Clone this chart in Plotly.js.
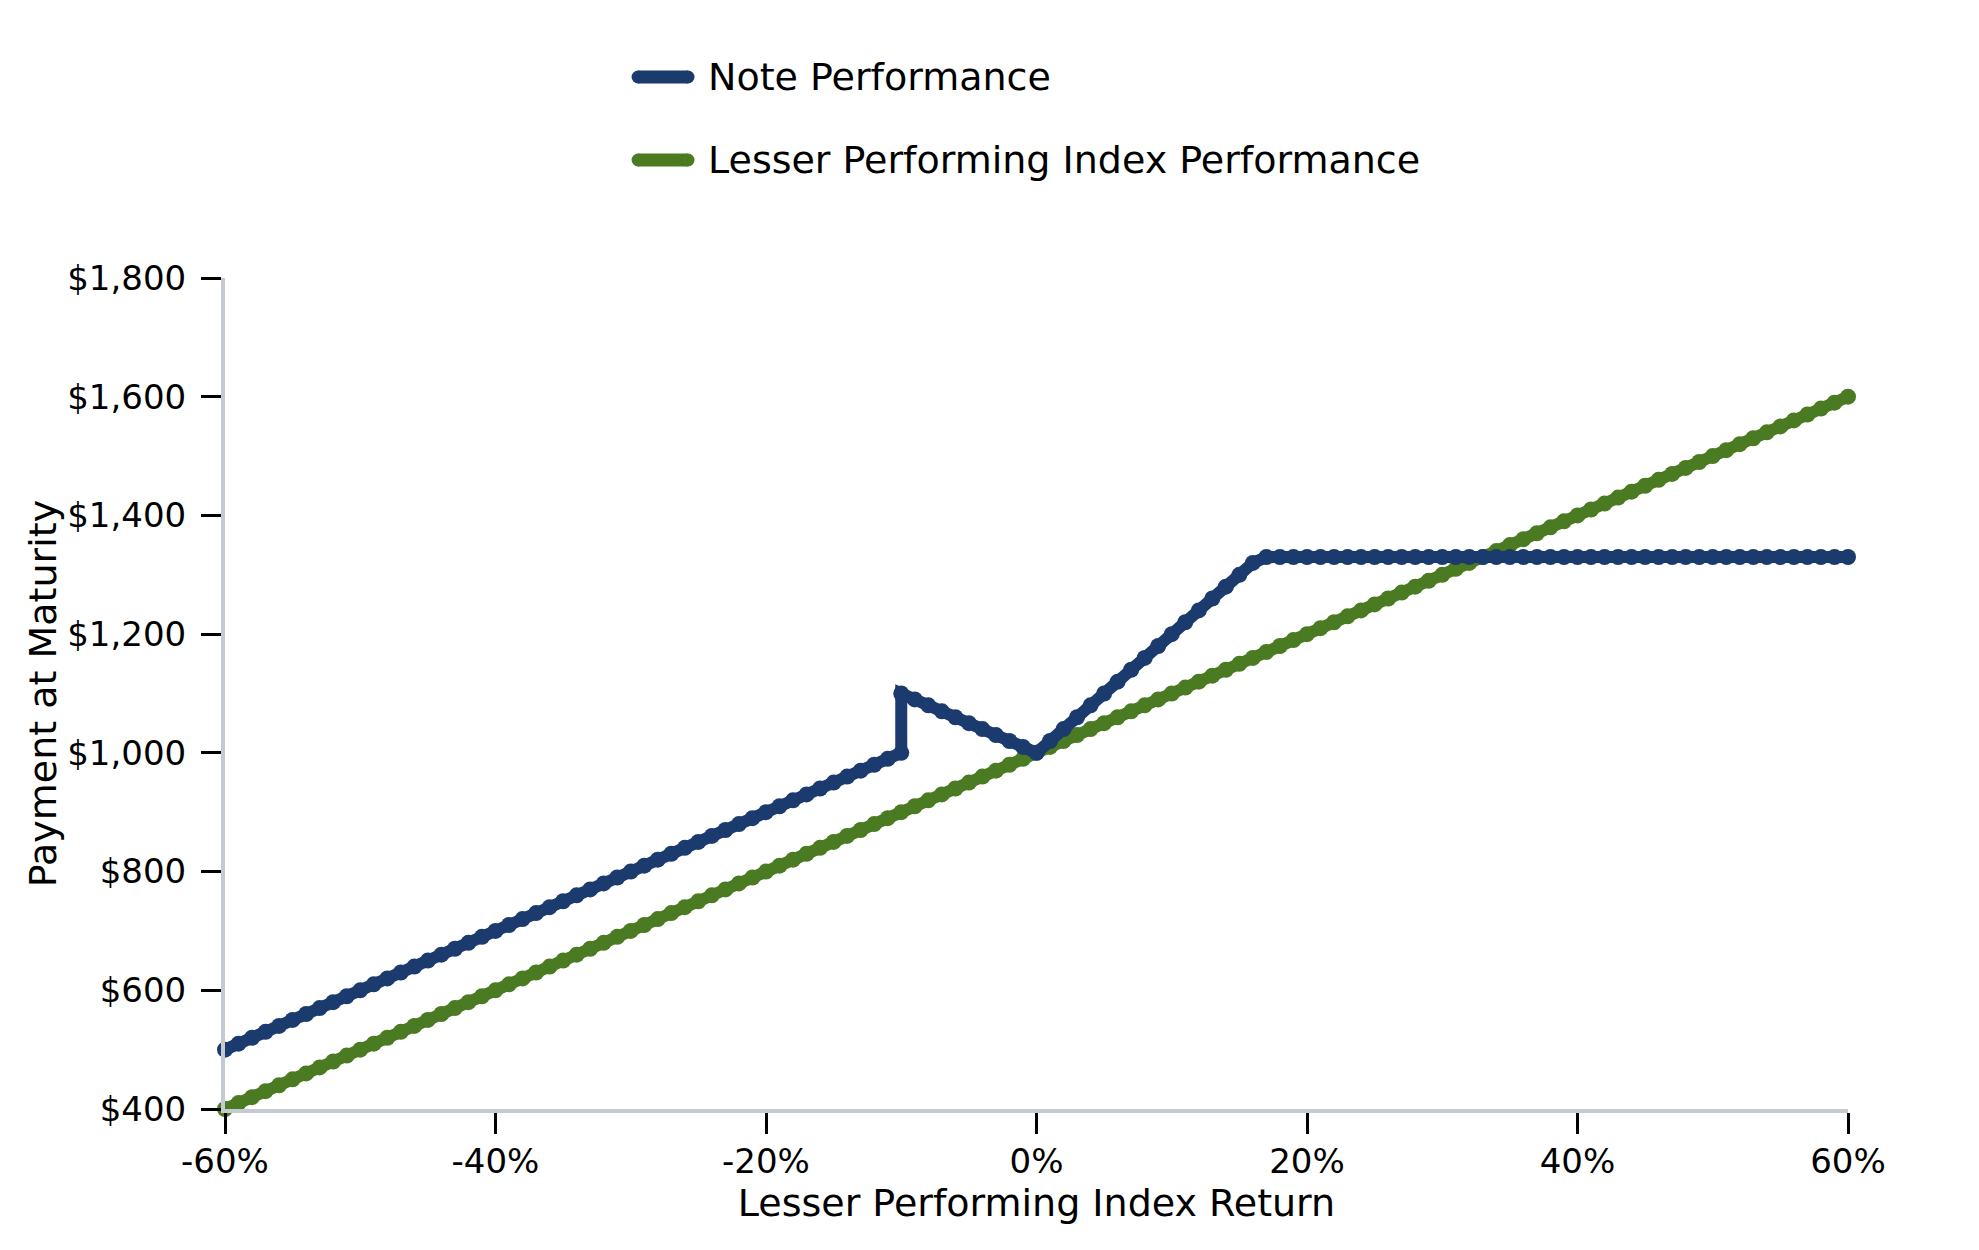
<!DOCTYPE html>
<html>
<head>
<meta charset="utf-8">
<script src="https://cdn.plot.ly/plotly-3.0.1.min.js"></script>
<style>
  html, body { margin: 0; padding: 0; background: #fff; }
  #chart { width: 1979px; height: 1250px; }
</style>
</head>
<body>
<div id="chart"></div>
<script>
// lesser performing index return, in percent
var returnPct = [
  -60,-59,-58,-57,-56,-55,-54,-53,-52,-51,
  -50,-49,-48,-47,-46,-45,-44,-43,-42,-41,
  -40,-39,-38,-37,-36,-35,-34,-33,-32,-31,
  -30,-29,-28,-27,-26,-25,-24,-23,-22,-21,
  -20,-19,-18,-17,-16,-15,-14,-13,-12,-11,
  -10,-9,-8,-7,-6,-5,-4,-3,-2,-1,
  0,1,2,3,4,5,6,7,8,9,
  10,11,12,13,14,15,16,17,18,19,
  20,21,22,23,24,25,26,27,28,29,
  30,31,32,33,34,35,36,37,38,39,
  40,41,42,43,44,45,46,47,48,49,
  50,51,52,53,54,55,56,57,58,59,
  60
];

var indexPayment = [
  400,410,420,430,440,450,460,470,480,490,
  500,510,520,530,540,550,560,570,580,590,
  600,610,620,630,640,650,660,670,680,690,
  700,710,720,730,740,750,760,770,780,790,
  800,810,820,830,840,850,860,870,880,890,
  900,910,920,930,940,950,960,970,980,990,
  1000,1010,1020,1030,1040,1050,1060,1070,1080,1090,
  1100,1110,1120,1130,1140,1150,1160,1170,1180,1190,
  1200,1210,1220,1230,1240,1250,1260,1270,1280,1290,
  1300,1310,1320,1330,1340,1350,1360,1370,1380,1390,
  1400,1410,1420,1430,1440,1450,1460,1470,1480,1490,
  1500,1510,1520,1530,1540,1550,1560,1570,1580,1590,
  1600
];

// note curve has two points at -10% (the jump)
var noteReturnPct = [
  -60,-59,-58,-57,-56,-55,-54,-53,-52,-51,
  -50,-49,-48,-47,-46,-45,-44,-43,-42,-41,
  -40,-39,-38,-37,-36,-35,-34,-33,-32,-31,
  -30,-29,-28,-27,-26,-25,-24,-23,-22,-21,
  -20,-19,-18,-17,-16,-15,-14,-13,-12,-11,
  -10,
  -10,-9,-8,-7,-6,-5,-4,-3,-2,-1,
  0,1,2,3,4,5,6,7,8,9,
  10,11,12,13,14,15,16,17,18,19,
  20,21,22,23,24,25,26,27,28,29,
  30,31,32,33,34,35,36,37,38,39,
  40,41,42,43,44,45,46,47,48,49,
  50,51,52,53,54,55,56,57,58,59,
  60
];

var notePayment = [
  500,510,520,530,540,550,560,570,580,590,
  600,610,620,630,640,650,660,670,680,690,
  700,710,720,730,740,750,760,770,780,790,
  800,810,820,830,840,850,860,870,880,890,
  900,910,920,930,940,950,960,970,980,990,
  1000,
  1100,1090,1080,1070,1060,1050,1040,1030,1020,1010,
  1000,1020,1040,1060,1080,1100,1120,1140,1160,1180,
  1200,1220,1240,1260,1280,1300,1320,1330,1330,1330,
  1330,1330,1330,1330,1330,1330,1330,1330,1330,1330,
  1330,1330,1330,1330,1330,1330,1330,1330,1330,1330,
  1330,1330,1330,1330,1330,1330,1330,1330,1330,1330,
  1330,1330,1330,1330,1330,1330,1330,1330,1330,1330,
  1330
];

var xTicks = [-60, -40, -20, 0, 20, 40, 60];
var xTickLabels = ['-60%', '-40%', '-20%', '0%', '20%', '40%', '60%'];
var yTicks = [400, 600, 800, 1000, 1200, 1400, 1600, 1800];
var yTickLabels = ['$400', '$600', '$800', '$1,000', '$1,200', '$1,400', '$1,600', '$1,800'];

var seriesNames = ['Note Performance', 'Lesser Performing Index Performance'];

var blue = '#1b3b6e';
var green = '#4a7a21';
var font = 'DejaVu Sans, sans-serif';

var indexTrace = {
  x: returnPct,
  y: indexPayment,
  name: seriesNames[1],
  mode: 'lines+markers',
  type: 'scatter',
  line: {color: green, width: 12},
  marker: {color: green, size: 16, line: {width: 0}},
  cliponaxis: false
};

var noteTrace = {
  x: noteReturnPct,
  y: notePayment,
  name: seriesNames[0],
  mode: 'lines+markers',
  type: 'scatter',
  line: {color: blue, width: 12},
  marker: {color: blue, size: 16, line: {width: 0}},
  cliponaxis: false
};

// legend drawn by hand so the keys can be long and thick like the original
var legendColors = [blue, green];
var legendY = [1.2419, 1.1420];
var keyX0 = 0.2545, keyX1 = 0.2853;
var capR = 0.004;
var shapes = [];
var annotations = [];
for (var i = 0; i < seriesNames.length; i++) {
  shapes.push({
    type: 'line', xref: 'paper', yref: 'paper',
    x0: keyX0, x1: keyX1, y0: legendY[i], y1: legendY[i],
    line: {color: legendColors[i], width: 13}
  });
  shapes.push({
    type: 'circle', xref: 'paper', yref: 'paper',
    x0: keyX0 - capR, x1: keyX0 + capR,
    y0: legendY[i] - 0.0078, y1: legendY[i] + 0.0078,
    fillcolor: legendColors[i], line: {width: 0}
  });
  shapes.push({
    type: 'circle', xref: 'paper', yref: 'paper',
    x0: keyX1 - capR, x1: keyX1 + capR,
    y0: legendY[i] - 0.0078, y1: legendY[i] + 0.0078,
    fillcolor: legendColors[i], line: {width: 0}
  });
  annotations.push({
    xref: 'paper', yref: 'paper',
    x: 0.2963, y: legendY[i], xanchor: 'left', yanchor: 'middle',
    text: seriesNames[i], showarrow: false,
    font: {family: font, size: 38, color: '#000000'}
  });
}

var layout = {
  width: 1979,
  height: 1250,
  paper_bgcolor: '#ffffff',
  plot_bgcolor: '#ffffff',
  font: {family: font, size: 34, color: '#000000'},
  margin: {l: 225, r: 131, t: 278, b: 141},
  showlegend: false,
  shapes: shapes,
  annotations: annotations,
  xaxis: {
    range: [-60, 60],
    tickmode: 'array',
    tickvals: xTicks,
    ticktext: xTickLabels,
    ticks: 'outside', ticklen: 21, tickwidth: 3, tickcolor: '#000000',
    ticklabelstandoff: -2,
    showline: true, linecolor: '#c5cad1', linewidth: 4,
    showgrid: false, zeroline: false,
    title: {text: 'Lesser Performing Index Return', font: {family: font, size: 38}, standoff: 10}
  },
  yaxis: {
    range: [400, 1800],
    tickmode: 'array',
    tickvals: yTicks,
    ticktext: yTickLabels,
    ticks: 'outside', ticklen: 20, tickwidth: 3, tickcolor: '#000000',
    ticklabelstandoff: 8,
    showline: true, linecolor: '#c5cad1', linewidth: 4,
    showgrid: false, zeroline: false,
    title: {text: 'Payment at Maturity', font: {family: font, size: 38}}
  }
};

Plotly.newPlot('chart', [indexTrace, noteTrace], layout, {displayModeBar: false});
</script>
</body>
</html>
